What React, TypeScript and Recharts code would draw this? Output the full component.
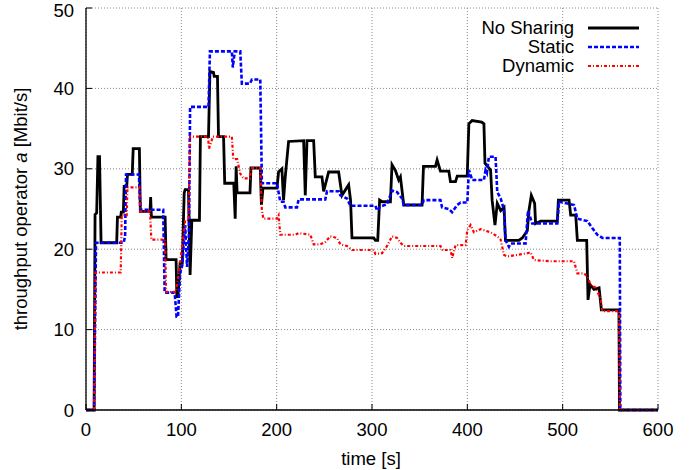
import React from 'react'
import { LineChart, Line, XAxis, YAxis, CartesianGrid, Legend } from 'recharts'

const FONT = '"Liberation Sans", Arial, Helvetica, sans-serif'

const timeTicks = [0, 100, 200, 300, 400, 500, 600]
const rateTicks = [0, 10, 20, 30, 40, 50]

// No Sharing (time in s, throughput in Mbit/s)
const noSharingTime = [
  0, 8.5, 9.5, 11.2, 12.5, 14.2, 15.8, 32.2, 33, 36.4, 37, 39.2, 40, 42.7, 43.5, 48.5, 49.5, 56, 57, 67.2,
  67.8, 68.6, 83, 84, 94.5, 95.3, 96.5, 98.7, 101, 103, 104, 107.5, 109.2, 111, 112.7, 119, 120, 128.5, 130, 133.7,
  134.5, 137.9, 139, 144.3, 145.5, 155, 156.5, 157.5, 158.5, 172, 173, 182.8, 184, 185.6, 200.3, 202, 205.5, 207.2, 209, 212.5,
  228.3, 230, 231.8, 238.8, 240.5, 247.5, 249.3, 254.5, 265, 268.5, 275.5, 277.5, 279, 301.8, 303.6, 306, 308, 310.5, 319.3, 321,
  324.5, 328, 329.8, 333.3, 352.5, 354, 366.6, 368.3, 371.8, 380.6, 382.3, 387.6, 389.4, 399.9, 401.6, 405, 415, 417.4, 418.5, 424.4,
  426, 429, 431.4, 435, 438.5, 440, 454, 457.6, 462.9, 464.6, 467.1, 470.6, 471.6, 477, 494.4, 495.5, 506.7, 508.4, 513.7, 515.4,
  525.2, 526.6, 528.7, 532.9, 538.2, 540.6, 559, 559.6, 600,
]
const noSharingRate = [
  0, 0, 24.3, 24.5, 31.5, 31.5, 20.8, 20.8, 24.0, 24.0, 24.6, 24.6, 27.8, 27.8, 29.3, 29.3, 32.5, 32.5, 24.7, 24.7,
  26.5, 24.0, 24.0, 18.7, 18.7, 14.1, 14.1, 18.3, 18.3, 27.0, 27.4, 27.4, 16.8, 23.6, 23.6, 23.6, 34.0, 34.0, 42.1, 42.0,
  41.5, 41.5, 34.0, 34.0, 28.2, 28.2, 23.8, 30.3, 27.0, 27.0, 30.1, 30.1, 25.5, 27.6, 27.6, 29.6, 30.0, 26.1, 29.0, 33.4,
  33.5, 26.7, 33.5, 33.5, 29.0, 29.0, 27.2, 29.6, 29.6, 26.7, 28.0, 26.1, 21.4, 21.4, 21.1, 21.1, 26.1, 25.9, 25.9, 30.5,
  29.8, 28.6, 29.0, 25.5, 25.5, 30.3, 30.3, 31.1, 29.7, 29.7, 28.4, 28.4, 29.1, 29.1, 35.6, 36.0, 35.8, 35.6, 30.7, 29.85,
  26.1, 23.0, 25.7, 24.8, 25.2, 21.1, 21.1, 21.4, 22.3, 24.8, 26.7, 25.7, 23.2, 23.5, 23.5, 26.1, 26.1, 24.25, 24.25, 21.1,
  21.1, 13.7, 15.6, 15.0, 15.2, 12.45, 12.45, 0, 0,
]

// Static
const staticTime = [
  0, 8.5, 10.5, 39.5, 41, 42, 55.5, 57, 81, 82.5, 93, 95, 96.5, 98.7, 101, 104, 106, 108, 109.2, 128.5,
  130, 153, 154, 156, 161.8, 163.5, 172, 174, 182.8, 184.5, 200.3, 203.8, 207.2, 209, 221.3, 223, 251, 252.8, 265, 266.8,
  273.8, 277.3, 303.6, 305.3, 308.8, 315.8, 321, 326.3, 331.5, 333.3, 352.5, 354.3, 371.8, 373.5, 380.5, 384, 389.4, 392.9, 400, 401.6,
  405.2, 417.4, 419.1, 420.5, 422.6, 429.6, 431.4, 434.9, 438.4, 440.1, 443.6, 445.4, 461.1, 463.6, 468.1, 494.4, 496.1, 511.9, 515.4, 525.9,
  531.2, 536.4, 541.7, 559.9, 560.5, 600,
]
const staticRate = [
  0, 0, 20.8, 20.8, 21.6, 29.3, 29.3, 24.9, 24.9, 14.6, 14.6, 11.6, 11.6, 17.0, 18.0, 23.0, 17.8, 22.0, 37.7, 37.7,
  44.6, 44.6, 42.6, 44.6, 44.6, 40.6, 40.6, 41.1, 41.1, 28.2, 28.2, 25.9, 25.9, 25.2, 25.2, 26.2, 26.2, 27.2, 27.2, 26.7,
  26.3, 25.4, 25.4, 24.8, 25.3, 25.6, 27.3, 27.1, 26.3, 25.5, 25.5, 26.1, 26.1, 25.2, 25.0, 24.6, 25.5, 25.8, 25.8, 29.85,
  28.6, 28.6, 29.85, 29.5, 31.5, 31.5, 27.1, 26.35, 24.9, 21.1, 20.3, 20.7, 20.7, 24.8, 23.2, 23.2, 25.9, 25.5, 23.8, 23.5,
  22.6, 21.8, 21.4, 21.4, 0, 0,
]

// Dynamic
const dynamicTime = [
  0, 8.5, 10, 36.4, 37.5, 42.7, 43.5, 56, 57, 67.2, 68.5, 83, 84, 94.5, 98.7, 104, 107.5, 109.2, 128, 129,
  131, 133, 153, 154.5, 158.5, 161.8, 165.3, 172, 173, 182.8, 184.5, 186, 200.3, 202, 203.8, 219.5, 223, 235.3, 238.8, 245.8,
  251, 256.3, 263.3, 266.8, 273.8, 279, 301.8, 303.6, 310.5, 315.8, 321, 326.3, 329.8, 333.3, 371.8, 374, 382.4, 384.1, 387.6, 398.2,
  400, 403.4, 406.9, 413.9, 424.4, 431.4, 434.9, 438.4, 441.9, 452.4, 462.9, 466.4, 469.9, 487.4, 511.9, 515.4, 522.4, 525.9, 529.4, 534.7,
  539.9, 541.7, 559.2, 560, 600,
]
const dynamicRate = [
  0, 0, 17.1, 17.1, 24.25, 24.25, 27.7, 27.7, 24.7, 24.7, 21.2, 21.2, 14.7, 14.7, 18.3, 23.6, 23.6, 34.0, 34.0, 32.5,
  33.2, 34.0, 34.0, 31.2, 31.2, 29.4, 28.8, 28.8, 30.1, 30.1, 24.9, 23.8, 23.8, 24.2, 21.8, 21.8, 22.0, 21.8, 20.6, 20.6,
  20.9, 21.6, 21.4, 20.6, 20.4, 19.9, 19.9, 19.4, 19.5, 20.4, 21.6, 21.4, 20.8, 20.4, 20.4, 19.9, 19.9, 18.9, 20.5, 20.5,
  22.4, 23.0, 22.1, 22.5, 22.1, 21.6, 21.2, 19.3, 19.1, 19.3, 19.5, 19.6, 18.65, 18.5, 18.5, 17.0, 17.0, 16.6, 15.6, 15.2,
  13.8, 12.3, 12.3, 0, 0,
]

const toPoints = (ts: number[], vs: number[]) => ts.map((t, i) => ({ t, v: vs[i] }))

const series = [
  { name: 'No Sharing', data: toPoints(noSharingTime, noSharingRate), color: '#000000', dash: undefined, width: 2.8 },
  { name: 'Static', data: toPoints(staticTime, staticRate), color: '#0000ff', dash: '4 2', width: 2.6 },
  { name: 'Dynamic', data: toPoints(dynamicTime, dynamicRate), color: '#ff0000', dash: '3 2 1 2', width: 2.2 },
]

const tickStyle = { fontFamily: FONT, fontSize: 18.5, fill: '#000' }

function LegendBox() {
  return (
    <div style={{ fontFamily: FONT, fontSize: 18.5, lineHeight: '19px', color: '#000' }}>
      {series.map(s => (
        <div key={s.name} style={{ display: 'flex', alignItems: 'center', justifyContent: 'flex-end', height: 19 }}>
          <span>{s.name}</span>
          <svg width={66} height={10} style={{ display: 'block' }}>
            <line x1={14} x2={65} y1={5} y2={5} stroke={s.color} strokeWidth={s.width} strokeDasharray={s.dash} />
          </svg>
        </div>
      ))}
    </div>
  )
}

function YTitle() {
  return (
    <text x={27} y={209} transform="rotate(-90 27 209)" textAnchor="middle" fontFamily={FONT} fontSize={18.5} fill="#000">
      throughput operator <tspan fontStyle="italic">a</tspan> [Mbit/s]
    </text>
  )
}

function XTitle() {
  return (
    <text x={371} y={465} textAnchor="middle" fontFamily={FONT} fontSize={18.5} fill="#000">
      time [s]
    </text>
  )
}

export default function App() {
  return (
    <div style={{ position: 'absolute', left: 0, top: 0, width: 694, height: 470, background: '#fff' }}>
      <LineChart width={694} height={470} margin={{ top: 8, right: 36, bottom: 0, left: 0 }}>
        <CartesianGrid stroke="#888" strokeDasharray="1 2" />
        <XAxis
          dataKey="t"
          type="number"
          domain={[0, 600]}
          ticks={timeTicks}
          height={60}
          axisLine={{ stroke: '#000', strokeWidth: 1.3 }}
          tickLine={{ stroke: '#000' }}
          tickSize={-6}
          tickMargin={19}
          tick={tickStyle}
          label={XTitle}
        />
        <XAxis
          xAxisId="top"
          orientation="top"
          dataKey="t"
          type="number"
          domain={[0, 600]}
          ticks={timeTicks}
          height={0}
          axisLine={{ stroke: '#000', strokeWidth: 1.3 }}
          tickLine={{ stroke: '#000' }}
          tickSize={-6}
          tick={false}
        />
        <YAxis
          type="number"
          domain={[0, 50]}
          ticks={rateTicks}
          width={86}
          axisLine={{ stroke: '#000', strokeWidth: 1.3 }}
          tickLine={{ stroke: '#000' }}
          tickSize={-6}
          tickMargin={18}
          tick={tickStyle}
          label={YTitle}
        />
        <YAxis
          yAxisId="right"
          orientation="right"
          type="number"
          domain={[0, 50]}
          ticks={rateTicks}
          width={0}
          axisLine={{ stroke: '#000', strokeWidth: 1.3 }}
          tickLine={{ stroke: '#000' }}
          tickSize={-6}
          tick={false}
        />
        <Legend
          layout="horizontal"
          verticalAlign="middle"
          align="center"
          content={LegendBox}
          wrapperStyle={{ position: 'absolute', top: 18, left: 440, width: 200, height: 60 }}
        />
        {series.map(s => (
          <Line
            key={s.name}
            data={s.data}
            dataKey="v"
            name={s.name}
            type="linear"
            stroke={s.color}
            strokeWidth={s.width}
            strokeDasharray={s.dash}
            dot={false}
            activeDot={false}
            isAnimationActive={false}
          />
        ))}
      </LineChart>
    </div>
  )
}
